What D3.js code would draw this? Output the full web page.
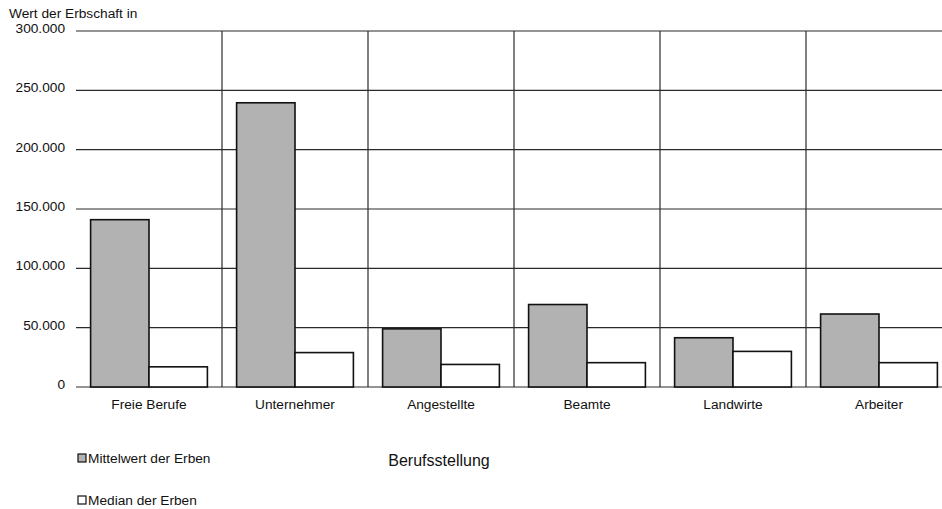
<!DOCTYPE html>
<html>
<head>
<meta charset="utf-8">
<script src="https://cdn.jsdelivr.net/npm/d3@7"></script>
<style>
  html, body { margin: 0; padding: 0; background: #fff; }
  svg { display: block; font-family: "Liberation Sans", Arial, Helvetica, sans-serif; }
</style>
</head>
<body>
<svg id="chart" width="942" height="509"></svg>
<script>
// Erbschaften nach Berufsstellung des Erben (Euro)
const categories = ["Freie Berufe", "Unternehmer", "Angestellte", "Beamte", "Landwirte", "Arbeiter"];
const meanValues = [141000, 239500, 49000, 69500, 41500, 61500];
const medianValues = [17000, 29000, 19000, 20500, 30000, 20500];
const yTicks = [0, 50000, 100000, 150000, 200000, 250000, 300000];
const seriesNames = ["Mittelwert der Erben", "Median der Erben"];
const seriesFills = ["#b2b2b2", "#ffffff"];

const svg = d3.select("#chart");
const plot = { left: 76, right: 952, top: 31, bottom: 387 };
const fontSize = 13.7;

const x = d3.scaleBand().domain(categories).range([plot.left, plot.right]).paddingInner(0).paddingOuter(0);
const inner = d3.scaleBand().domain([0, 1]).range([0, x.bandwidth()]).paddingOuter(0.25).paddingInner(0);
const y = d3.scaleLinear().domain([0, 300000]).range([plot.bottom, plot.top]);

const fmt = v => d3.format(",")(v).replace(/,/g, ".");

// horizontal gridlines
svg.append("g")
  .selectAll("line")
  .data(yTicks)
  .join("line")
  .attr("x1", plot.left).attr("x2", plot.right)
  .attr("y1", d => y(d)).attr("y2", d => y(d))
  .attr("stroke", "#2a2a2a").attr("stroke-width", 1.2);

// vertical separators between categories
svg.append("g")
  .selectAll("line")
  .data(categories.slice(1))
  .join("line")
  .attr("x1", d => x(d)).attr("x2", d => x(d))
  .attr("y1", plot.top).attr("y2", plot.bottom)
  .attr("stroke", "#2a2a2a").attr("stroke-width", 1.2);

// y tick labels
svg.append("g")
  .selectAll("text")
  .data(yTicks)
  .join("text")
  .attr("x", 65).attr("y", d => y(d) + 2)
  .attr("text-anchor", "end")
  .attr("font-size", fontSize)
  .attr("fill", "#111")
  .text(d => fmt(d));

// axis title
svg.append("text")
  .attr("x", 9).attr("y", 18)
  .attr("font-size", fontSize).attr("fill", "#111")
  .text("Wert der Erbschaft in");

// bars
const series = [meanValues, medianValues];
series.forEach((vals, si) => {
  svg.append("g")
    .selectAll("rect")
    .data(categories)
    .join("rect")
    .attr("x", d => x(d) + inner(si))
    .attr("width", inner.bandwidth())
    .attr("y", (d, i) => y(vals[i]))
    .attr("height", (d, i) => y(0) - y(vals[i]))
    .attr("fill", seriesFills[si])
    .attr("stroke", "#111")
    .attr("stroke-width", 1.6);
});

// category labels
svg.append("g")
  .selectAll("text")
  .data(categories)
  .join("text")
  .attr("x", d => x(d) + x.bandwidth() / 2)
  .attr("y", 409)
  .attr("text-anchor", "middle")
  .attr("font-size", fontSize).attr("fill", "#111")
  .text(d => d);

// x axis title
svg.append("text")
  .attr("x", 439).attr("y", 466)
  .attr("text-anchor", "middle")
  .attr("font-size", 16).attr("fill", "#111")
  .text("Berufsstellung");

// legend
const legend = svg.append("g")
  .selectAll("g")
  .data(seriesNames)
  .join("g")
  .attr("transform", (d, i) => `translate(78, ${463 + i * 42})`);
legend.append("rect")
  .attr("x", 0).attr("y", -9)
  .attr("width", 8).attr("height", 8)
  .attr("fill", (d, i) => seriesFills[i])
  .attr("stroke", "#111").attr("stroke-width", 1.2);
legend.append("text")
  .attr("x", 10).attr("y", 0)
  .attr("font-size", fontSize).attr("fill", "#111")
  .text(d => d);
</script>
</body>
</html>
